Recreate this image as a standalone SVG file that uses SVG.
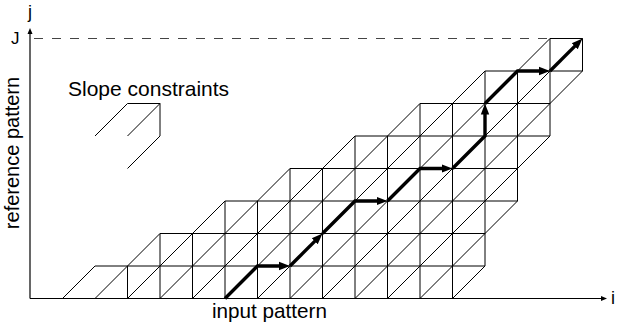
<svg xmlns="http://www.w3.org/2000/svg" width="618" height="329" viewBox="0 0 618 329">
<style>
.grid{fill:none;stroke:#000;stroke-width:1}
.axis{fill:none;stroke:#000;stroke-width:1.2}
.dash{fill:none;stroke:#444;stroke-width:1.2;stroke-dasharray:9 9}
.warp{fill:none;stroke:#000;stroke-width:3.4;stroke-linejoin:miter}
.lbl{font-family:"Liberation Sans",Arial,sans-serif;fill:#000}
</style>
<defs>
<marker id="ah" markerUnits="userSpaceOnUse" viewBox="0 -5 12 10" markerWidth="12" markerHeight="10" refX="2" refY="0" orient="auto">
<path d="M0,-4.2 L11,0 L0,4.2 z" fill="#000"/>
</marker>
<marker id="ax" markerUnits="userSpaceOnUse" viewBox="0 -3 7 6" markerWidth="7" markerHeight="6" refX="0" refY="0" orient="auto">
<path d="M0,-2.5 L6,0 L0,2.5 z" fill="#000"/>
</marker>
</defs>
<rect width="618" height="329" fill="#fff"/>
<g id="grid" class="grid">
<path d="M95 266H485M160 233.5H485M225 201H517.5M290 168.5H517.5M355 136H550M420 103.5H550M485 71H582.5M550 38.5H582.5"/>
<path d="M127.5 298.5V266M160 298.5V233.5M192.5 298.5V233.5M225 298.5V201M257.5 298.5V201M290 298.5V168.5M322.5 298.5V168.5M355 298.5V136M387.5 298.5V136M420 298.5V103.5M452.5 298.5V103.5M485 266V71M517.5 201V71M550 136V38.5M582.5 71V38.5"/>
<path d="M62.5 298.5L95 266M95 298.5L160 233.5M127.5 298.5L225 201M160 298.5L290 168.5M192.5 298.5L355 136M225 298.5L420 103.5M257.5 298.5L485 71M290 298.5L550 38.5M322.5 298.5L582.5 38.5M355 298.5L582.5 71M387.5 298.5L550 136M420 298.5L517.5 201M452.5 298.5L485 266"/>
</g>
<g id="slope-icon" class="grid">
<path d="M95 136L127.5 103.5H160M127.5 136L160 103.5V136M127.5 168.5L160 136"/>
</g>
<g id="axes">
<line class="dash" x1="34" y1="38.5" x2="550" y2="38.5"/>
<line class="axis" x1="30" y1="298.5" x2="601" y2="298.5" marker-end="url(#ax)"/>
<line class="axis" x1="30" y1="298.5" x2="30" y2="34" marker-end="url(#ax)"/>
</g>
<g id="connectors">
<path class="warp" d="M225 298.5L257.5 266H281" marker-end="url(#ah)"/>
<path class="warp" d="M290 266L316.14 239.86" marker-end="url(#ah)"/>
<path class="warp" d="M322.5 233.5L355 201H378.5" marker-end="url(#ah)"/>
<path class="warp" d="M387.5 201L420 168.5H443.5" marker-end="url(#ah)"/>
<path class="warp" d="M452.5 168.5L485 136V112.5" marker-end="url(#ah)"/>
<path class="warp" d="M485 103.5L517.5 71H541" marker-end="url(#ah)"/>
<path class="warp" d="M550 71L576.14 44.86" marker-end="url(#ah)"/>
</g>
<g id="labels">
<text class="lbl" x="28" y="18" font-size="18">j</text>
<text class="lbl" x="11" y="44" font-size="17">J</text>
<text class="lbl" x="611" y="304" font-size="18">i</text>
<text class="lbl" x="212" y="318" font-size="20.7">input pattern</text>
<text class="lbl" x="68" y="96" font-size="21">Slope constraints</text>
<text class="lbl" transform="translate(18.5 153) rotate(-90)" text-anchor="middle" font-size="20">reference pattern</text>
</g>
</svg>
